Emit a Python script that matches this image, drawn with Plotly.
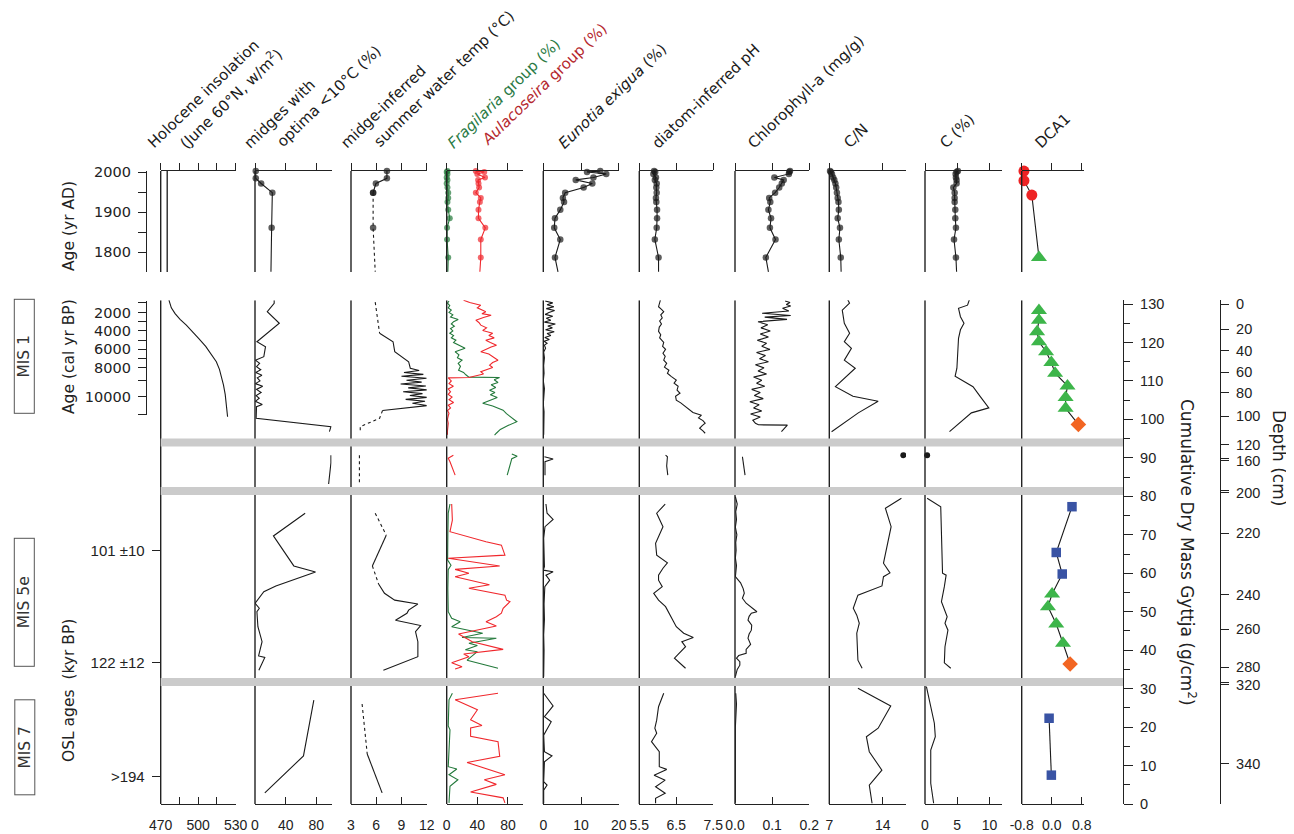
import plotly.graph_objects as go

W, H = 1294, 834          # browser window
OFF = 8                   # default page margin around the figure
FW, FH = W - OFF, H - OFF
FONT = "DejaVu Sans"
TICK_FAMILY = "Liberation Sans"
INK = "#1a1a1a"
GREEN = "#23793b"
RED = "#f0282d"

# ------------------------------------------------------------------ DATA
# --- top row: recent sediments (years AD); last year = line reaching panel bottom
top_years = [2003, 2001, 1996, 1987, 1981, 1972, 1962, 1949, 1936, 1926, 1906, 1885, 1861, 1832, 1787, 1751]
frag_top = [1, 0, 1, 0, 1, 0, 1, 2, 2, 1, 2, 4, 0.5, 0.5, 2, 1.5]
aul_top = [38, 49, 40, 50, 41, 41.5, 42.3, 38, 44.5, 43.3, 41.5, 41.5, 50.4, 44.5, 44.5, 43.3]
eun_top = [15.1, 11.6, 16.7, 13.3, 8.6, 13.0, 10.7, 5.8, 5.2, 5.5, 4.5, 3.1, 2.9, 4.5, 3.1, 3.9]
ph_top = [5.90, 5.93, 5.88, 5.95, 5.92, 5.97, 5.96, 5.97, 5.95, 5.96, 5.98, 5.98, 5.97, 5.92, 6.02, 6.02]
chl_top = [0.148, 0.146, 0.145, 0.106, 0.131, 0.126, 0.119, 0.108, 0.092, 0.095, 0.090, 0.097, 0.094, 0.109, 0.083, 0.090]
cn_top = [7.1, 7.2, 7.35, 7.5, 7.66, 7.8, 7.9, 8.0, 8.1, 8.2, 8.25, 8.1, 8.4, 8.25, 8.5, 8.55]
c_top = [5.1, 4.9, 4.75, 4.8, 4.9, 4.9, 4.4, 4.6, 4.6, 4.6, 4.7, 4.7, 4.8, 4.5, 4.8, 4.9]

midge_top_years = [2003, 1985, 1972, 1949, 1861, 1751]
midge_top = [1, 1, 8, 22.6, 21.7, 20.8]
temp_top_years = [2003, 1985, 1972, 1949]
temp_top = [7.27, 7.27, 5.96, 5.63]
temp_top_dash_years = [1949, 1861, 1751]
temp_top_dash = [5.63, 5.63, 5.88]
ins_top_years = [2003.3, 1750.5]
ins_top = [475.2, 475.2]
dca_top_years = [2003, 1979, 1943, 1787]
dca_top = [-0.74, -0.74, -0.53, -0.34]
dca_top_kind = ["circle", "circle", "circle", "triangle"]

# --- lower panels: cumulative dry mass (g/cm2); None separates core sections
ins_cum = [131.0, 129.0, 127.5, 126.0, 124.5, 123.0, 121.0, 119.0, 117.0, 115.0, 113.0, 111.0, 109.0, 106.5, 104.0, 100.7]
ins_wm2 = [476.6, 478.5, 481.5, 485.5, 490.5, 495.0, 500.5, 506.0, 510.5, 514.5, 517.0, 518.8, 520.2, 521.6, 522.6, 523.5]

midge_cum = [131.0, 130.2, 128.0, 125.0, 120.2, 118.9, 116.3, 115.4, 114.6, 113.7, 112.9, 112.2, 111.5, 110.8, 110.0,
             109.3, 108.6, 107.8, 107.0, 106.2, 105.5, 104.7, 103.9, 103.3, 100.3, 98.1, 96.8,
             None, 90.7, 88.7, 83.2,
             None, 75.6, 69.7, 61.9, 60.3, 56.7, 55.2, 52.2, 50.9, 50.0, 46.1, 42.2, 38.5, 38.1, 34.8,
             None, 27.0, 12.5, 2.9]
midge_pct = [25.0, 25.0, 16.0, 31.7, 2.5, 13.7, 11.5, 0.5, 6.0, 2.0, 7.5, 1.0, 9.0, 3.0, 6.5,
             0.5, 10.0, 2.0, 8.0, 1.5, 5.5, 0.5, 9.5, 2.0, 1.5, 99.0, 97.0,
             None, 99.0, 99.0, 96.0,
             None, 65.4, 24.0, 50.6, 78.9, 27.2, 11.5, 0.2, 5.6, 2.5, 3.8, 9.2, 4.7, 12.8, 5.0,
             None, 76.7, 63.2, 12.8]

temp_cum = [122.4, 120.2, 117.6, 115.0, 113.3, 112.7, 112.2, 111.7, 111.2, 110.7, 110.2, 109.7, 109.2, 108.7, 108.2,
            107.7, 107.2, 106.7, 106.2, 105.7, 105.2, 104.7, 104.2, 103.6, 102.3,
            None, 69.9, 61.9,
            None, 57.2, 54.8, 53.0, 52.0, 50.4, 49.6, 47.8, 46.4, 44.8, 42.2, 38.3, 34.8,
            None, 13.0, 2.9]
temp_c = [6.4, 8.0, 8.2, 9.85, 10.05, 11.1, 9.3, 11.6, 9.0, 12.0, 9.6, 11.4, 8.9, 11.9, 9.8,
          12.1, 9.2, 11.5, 10.0, 12.1, 9.5, 11.8, 10.3, 12.1, 6.75,
          None, 7.19, 5.54,
          None, 6.28, 6.98, 8.2, 10.95, 9.85, 9.65, 8.29, 11.28, 10.67, 10.95, 10.95, 6.85,
          None, 4.93, 6.7]
temp_dash_cum = [130.5, 122.4, None, 102.3, 100.3, 98.1, 96.8, None, 90.7, 83.4, None, 75.6, 69.9,
                 None, 61.9, 57.2, None, 26.0, 13.0]
temp_dash_c = [5.88, 6.4, None, 6.75, 6.4, 4.1, 4.1, None, 4.0, 4.0, None, 5.88, 7.19,
               None, 5.54, 6.28, None, 4.32, 4.93]

frag_cum = [130.8, 130.2, 129.6, 129.0, 128.4, 127.8, 127.2, 126.6, 126.0, 125.4, 124.8, 124.2, 123.6, 123.0, 122.4,
            121.8, 121.2, 120.6, 120.0, 119.4, 118.8, 118.5, 117.6, 116.8, 116.0, 115.4, 114.6, 113.8, 112.8, 112.2,
            111.6, 111.0, 110.9, 110.3, 109.6, 109.0, 108.3, 107.6, 107.0, 106.4, 105.7, 105.0, 104.2, 103.5, 102.4,
            101.5, 100.6, 99.4, 98.4, 97.4, 96.4, 95.9,
            None, 91.0, 90.4, 89.8, 85.5,
            None, 78.0, 75.6, 70.0, 63.4, 62.1, 60.9, 56.0, 50.0, 48.3, 47.4, 46.1, 44.4, 43.3, 43.1, 41.8, 41.2,
            40.1, 39.6, 37.4, 35.3,
            None, 28.8, 27.1, 20.3, 19.3, 9.7, 9.1, 7.6, 6.3, 4.6, 0.3]
frag_pct = [3, 1, 4, 2, 6, 3, 8, 5, 15, 9, 6, 10, 5, 8, 4,
            9, 6, 12, 9, 15, 20, 24, 11, 16, 14, 20, 15, 18, 15.5, 22,
            25, 29, 69, 62, 67, 58, 64, 56, 63, 57, 66, 56, 47, 60, 73.6,
            78, 84, 91.6, 80, 70, 64.8, 62.5,
            None, 85, 92, 85, 79,
            None, 4.3, 2, 1.5, 1.2, 5.6, 2, 1.5, 2, 6.5, 17.7, 6.5, 47, 20, 64.8, 29, 40,
            24.4, 40, 26.6, 67,
            None, 7.4, 3, 2, 4.3, 2, 13.2, 3, 14.6, 4.3, 3]

aul_cum = [131.0, 130.4, 129.7, 129.0, 128.4, 128.0, 127.5, 127.1, 126.5, 125.8, 125.2, 124.5, 123.8, 123.1, 122.4,
           121.8, 121.2, 120.6, 120.0, 119.3, 118.8, 118.2, 117.6, 117.0, 116.4, 115.9, 115.4, 114.8, 114.1, 113.5,
           112.9, 112.4, 111.8, 111.3, 110.9, 110.8, 110.0, 109.3, 108.6, 107.9, 107.2, 106.5, 105.8, 105.1, 104.4,
           103.7, 103.0, 102.3, 101.6, 100.9, 100.0, 99.0, 98.0, 97.0, 96.0,
           None, 90.7, 89.9, 89.0, 85.5,
           None, 78.0, 73.8, 70.8, 68.2, 67.3, 64.7, 63.9, 61.9, 61.0, 60.0, 59.1, 57.0, 56.1, 54.8, 54.3,
           53.0, 52.6, 50.9, 49.6, 48.7, 47.4, 46.3, 44.2, 42.2, 40.2, 39.0, 38.3, 36.7, 35.7, 35.1,
           None, 28.8, 27.1, 24.5, 21.9, 20.4, 19.8, 17.6, 16.2, 12.4, 10.8, 7.6, 6.3, 5.1, 3.1, 1.6, 0.3]
aul_pct = [22, 30, 44.5, 40, 47, 51, 46, 58, 48, 38, 42, 44.5, 52, 47, 60,
           55, 62, 51, 57, 65, 58, 52, 44.5, 55, 60, 63, 67, 60, 56, 60,
           50, 44.5, 48, 38, 29, 2, 6, 3, 8.7, 2, 5, 2, 7, 3, 9,
           2, 5, 1, 3, 2, 1, 2, 1, 1, 1,
           None, 8.7, 2, 4.3, 11,
           None, 6.5, 7.4, 4.3, 51.3, 71.4, 76, 2, 69.2, 11, 29, 11, 55.8, 29, 64.8, 76,
           78.2, 82.6, 73.7, 71.4, 64.8, 51.3, 64.8, 15.5, 33.4, 73.7, 22.2, 29, 6.5, 20, 11,
           None, 67, 11, 40.1, 31.2, 46, 31.2, 31.2, 67, 69.2, 26.6, 76, 49.1, 64.8, 31.2, 73.7, 76]

eun_cum = [130.8, 130.3, 129.8, 129.3, 128.8, 128.3, 127.8, 127.3, 126.8, 126.3, 125.8, 125.3, 124.8, 124.3, 123.8,
           123.3, 122.8, 122.3, 121.8, 121.3, 120.8, 120.3, 119.8, 119.3, 118.5, 117.5, 116.0, 114.0, 112.0, 110.0,
           108.0, 106.0, 104.0, 102.0, 100.0, 98.0, 96.0,
           None, 90.3, 89.7, 89.0, 85.5,
           None, 78.0, 75.6, 74.0, 72.1, 69.1, 65.0, 61.7, 60.8, 60.4, 59.5, 58.2, 56.5, 52.0, 48.0, 44.0, 40.0,
           36.0, 33.1,
           None, 28.8, 25.5, 22.7, 21.4, 17.9, 13.6, 12.5, 11.0, 5.8, 4.9, 3.6, 0.2]
eun_pct = [0.5, 2.5, 1.0, 2.8, 0.8, 3.0, 1.5, 0.5, 2.5, 0.8, 2.0, 0.3, 3.2, 1.2, 2.4,
           0.6, 2.9, 1.0, 2.0, 0.4, 1.6, 0.2, 1.0, 0.3, 0.6, 0.1, 0.3, 0.1, 0.2, 0.0,
           0.3, 0.1, 0.0, 0.2, 0.1, 0.0, 0.1,
           None, 0.3, 2.6, 0.45, 0.45,
           None, 0.7, 1.0, 2.6, 0.45, 0.1, 0.2, 0.3, 0.0, 2.6, 0.7, 1.7, 0.4, 0.2, 0.3, 0.1, 0.2,
           0.1, 0.1,
           None, 0.1, 2.6, 0.3, 2.1, 0.1, 0.3, 2.3, 0.3, 0.1, 1.0, 0.1, 0.1]

ph_cum = [131.0, 130.0, 129.3, 128.6, 128.0, 127.2, 126.4, 125.6, 124.8, 124.0, 122.9, 122.0, 121.2, 120.0, 119.0,
          118.2, 117.2, 116.4, 115.4, 114.6, 113.6, 112.8, 112.0, 111.2, 110.2, 109.4, 108.6, 107.6, 106.8, 106.0,
          105.0, 104.3, 103.7, 103.0, 102.4, 101.8, 101.1, 100.4, 99.7, 99.0, 98.4, 97.7, 97.0, 96.4,
          None, 90.7, 90.3, 87.9, 85.5,
          None, 78.0, 75.6, 72.1, 67.8, 64.7, 62.7, 61.3, 59.5, 58.2, 56.5, 54.8, 53.0, 51.3, 48.7, 46.1,
          44.4, 43.3, 42.2, 40.9, 37.9, 35.3,
          None, 28.8, 25.3, 21.8, 19.7, 18.4, 16.2, 13.6, 9.7, 9.0, 7.5, 6.2, 4.5, 2.8, 1.5, 0.2]
ph_val = [6.07, 6.04, 6.02, 6.10, 6.16, 6.08, 6.12, 6.05, 6.10, 6.04, 6.02, 6.08, 6.05, 6.16, 6.13,
          6.21, 6.14, 6.20, 6.16, 6.24, 6.18, 6.30, 6.26, 6.36, 6.50, 6.44, 6.55, 6.52, 6.60, 6.48,
          6.50, 6.62, 6.70, 6.78, 6.89, 6.95, 7.18, 7.10, 7.22, 7.28, 7.20, 7.13, 7.22, 7.28,
          None, 6.21, 6.26, 6.24, 6.27,
          None, 6.20, 5.97, 6.14, 5.94, 5.97, 6.26, 6.14, 6.02, 6.02, 6.12, 5.89, 6.02, 6.21, 6.36, 6.50,
          6.70, 6.96, 6.65, 6.75, 6.45, 6.75,
          None, 6.16, 6.02, 5.97, 5.92, 5.97, 5.83, 6.04, 6.04, 6.24, 5.90, 6.20, 5.94, 6.20, 5.94, 5.94]

chl_cum = [130.8, 130.4, 129.9, 129.5, 128.9, 128.2, 127.6, 127.0, 126.6, 126.0, 125.4, 124.6, 123.8, 123.0, 122.2,
           121.4, 120.6, 119.8, 119.0, 118.2, 117.4, 116.6, 115.8, 115.0, 114.2, 113.4, 112.6, 111.8, 111.0, 110.2,
           109.4, 108.6, 107.8, 107.0, 106.2, 105.4, 104.6, 103.8, 103.0, 102.2, 101.4, 100.6, 99.8, 99.0, 98.6,
           98.5, 96.8,
           None, 90.3, 85.5,
           None, 79.9, 78.0, 76.0, 74.0, 72.0, 70.0, 68.0, 66.0, 64.0, 62.0, 60.0, 59.1, 57.5, 56.0, 54.8,
           53.5, 52.2, 51.5, 50.9, 50.0, 49.6, 48.8, 47.8, 46.5, 45.2, 44.2, 43.1, 41.5, 40.2, 39.2,
           38.6, 37.9, 37.0, 36.1, 35.0, 33.1,
           None, 28.8, 26.0, 20.0, 10.0, 0.3]
chl_mg = [0.135, 0.148, 0.138, 0.150, 0.128, 0.145, 0.073, 0.150, 0.080, 0.140, 0.062, 0.088, 0.070, 0.095, 0.068,
          0.090, 0.060, 0.085, 0.072, 0.094, 0.058, 0.082, 0.066, 0.090, 0.055, 0.078, 0.062, 0.085, 0.050, 0.072,
          0.058, 0.080, 0.045, 0.068, 0.052, 0.076, 0.040, 0.065, 0.050, 0.072, 0.042, 0.068, 0.048, 0.055, 0.063,
          0.141, 0.125,
          None, 0.020, 0.027,
          None, 0.001, 0.006, 0.002, 0.004, 0.001, 0.005, 0.002, 0.003, 0.001, 0.004, 0.002, 0.001, 0.015, 0.022, 0.025,
          0.020, 0.030, 0.040, 0.049, 0.059, 0.044, 0.038, 0.035, 0.045, 0.044, 0.038, 0.035, 0.042, 0.030, 0.030,
          0.010, 0.004, 0.013, 0.013, 0.006, 0.001,
          None, 0.002, 0.004, 0.001, 0.001, 0.001]

cn_cum = [131.2, 130.2, 128.4, 125.0, 122.4, 120.2, 118.5, 115.4, 113.3, 108.5, 106.0, 104.7, 101.7, 96.8,
          None, 79.5, 76.9, 72.1, 66.5, 62.6, 60.1, 59.1, 56.7, 54.3, 50.9, 49.1, 47.0, 44.4, 37.4, 35.3,
          None, 30.1, 25.5, 19.7, 17.5, 13.6, 8.8, 4.9, 0.2]
cn_ratio = [9.4, 9.65, 8.7, 8.97, 9.66, 8.97, 9.9, 8.97, 10.4, 7.8, 10.1, 13.4, 10.8, 7.3,
            None, 16.45, 14.35, 15.1, 14.57, 14.1, 14.95, 14.1, 13.9, 10.75, 10.14, 10.6, 10.93, 10.6, 10.75, 11.3,
            None, 10.75, 15.05, 13.4, 11.86, 12.24, 13.89, 12.24, 12.6]
cn_mid_cum = [90.7]
cn_mid = [16.7]

c_cum = [131.2, 129.7, 128.9, 126.7, 125.0, 123.3, 121.1, 117.0, 113.3, 111.2, 108.5, 106.0, 103.0, 101.7, 96.8,
         None, 79.5, 77.3, 60.0, 59.5, 56.5, 52.6, 48.7, 47.0, 45.2, 40.9, 36.7, 35.3,
         None, 30.5, 21.0, 17.5, 14.0, 5.4, 0.2]
c_pct = [6.9, 6.6, 5.2, 5.5, 6.05, 5.5, 5.2, 5.05, 4.95, 4.67, 7.45, 8.55, 9.9, 7.2, 3.8,
         None, 0.33, 2.44, 2.72, 3.28, 3.0, 2.55, 3.44, 3.1, 3.56, 3.1, 3.0, 4.0,
         None, 0.22, 1.45, 1.6, 0.89, 0.89, 1.34]
c_mid_cum = [90.7]
c_mid = [0.33]

dca_cum = [128.3, 125.8, 122.8, 120.2, 117.6, 114.8, 112.0, 108.7, 105.7, 102.9, 98.7,
           None, 90.2,
           None, 77.3, 65.4, 59.8, 54.6, 51.3, 46.8, 41.8, 36.4,
           None, 22.3, 7.5]
dca_val = [-0.34, -0.34, -0.39, -0.34, -0.15, -0.01, 0.09, 0.42, 0.37, 0.37, 0.71,
           None, 0.99,
           None, 0.54, 0.12, 0.28, 0.01, -0.10, 0.12, 0.30, 0.49,
           None, -0.07, -0.01]
dca_kind = ["triangle"] * 10 + ["diamond", None, "square", None,
            "square", "square", "square", "triangle", "triangle", "triangle", "triangle", "diamond",
            None, "square", "square"]

# --- section separators and age scales (cumulative dry mass units)
gap_bands = [94.0, 81.4, 31.7]
bp_tick_cum = [130.3, 127.8, 125.5, 123.1, 120.6, 118.3, 115.9, 113.5, 110.1, 105.9, 101.2]
bp_tick_text = ["", "2000", "", "4000", "", "6000", "", "8000", "", "10000", ""]
osl_tick_cum = [65.9, 36.8, 7.2]
osl_tick_text = ["101 ±10", "122 ±12", ">194"]
depth_cm = [0, 20, 40, 60, 80, 100, 120, 160, 200, 220, 240, 260, 280, 320, 340]
depth_cum = [130.0, 123.4, 117.9, 112.3, 106.9, 100.8, 93.4, 89.3, 80.9, 70.4, 54.4, 45.5, 35.6, 31.0, 10.5]
depth_break_cm = [160, 200, 320]

# ------------------------------------------------------------------ GEOMETRY (window pixels)
Y0_PX, PX_PER_UNIT, CUM_MAX = 804.0, 3.846, 131.0
TOP_PX, BOT_PX = 171.0, 272.0
YEAR_TOP, YEAR_BOT = 2003.3, 1750.5

col_px = [(160.7, 235.7), (255.0, 331.7), (351.0, 426.7), (446.7, 523.3), (543.3, 618.7),
          (639.3, 713.3), (735.0, 809.3), (829.3, 906.0), (925.0, 1001.7), (1021.7, 1084.0)]
col_range = [[470, 530], [0, 100], [3, 12], [0, 100], [0, 20], [5.5, 7.5], [0, 0.2], [7, 17.05], [0, 11.9],
             [-0.8, 0.86]]
col_ticks = [[470, 485, 500, 515, 530], [0, 40, 80], [3, 6, 9, 12], [0, 40, 80], [0, 10, 20], [5.5, 6.5, 7.5],
             [0, 0.1, 0.2], [7, 14], [0, 5, 10], [-0.8, 0, 0.8]]
col_ticktext = [["470", "", "500", "", "530"], ["0", "40", "80"], ["3", "6", "9", "12"], ["0", "40", "80"],
                ["0", "10", "20"], ["5.5", "6.5", "7.5"], ["0.0", "0.1", "0.2"], ["7", "14"], ["0", "5", "10"],
                ["-0.8", "0.0", "0.8"]]


def px_x(px):
    return (px - OFF) / FW


def px_y(py):
    return 1 - (py - OFF) / FH


def cum_to_paper(c):
    return px_y(Y0_PX - PX_PER_UNIT * c)


def xlow(i):
    return "x" if i == 0 else f"x{i + 1}"


def xtop(i):
    return f"x{i + 11}"


fig = go.Figure()


def low_line(i, cum, val, color=INK, width=1.1, dash="solid"):
    fig.add_trace(go.Scatter(x=val, y=cum, xaxis=xlow(i), yaxis="y", mode="lines",
                             line=dict(color=color, width=width, dash=dash), connectgaps=False,
                             hoverinfo="skip"))


def top_series(i, years, vals, color=INK, msize=6.5, dash="solid", extend=True):
    n = len(years)
    sizes = [msize] * (n - 1) + [0 if extend else msize]
    fig.add_trace(go.Scatter(x=vals, y=years, xaxis=xtop(i), yaxis="y2", mode="lines+markers",
                             line=dict(color=color, width=1.1, dash=dash),
                             marker=dict(color=color, size=sizes, line=dict(width=0)),
                             cliponaxis=False, hoverinfo="skip"))


# ---- top row
fig.add_trace(go.Scatter(x=ins_top, y=ins_top_years, xaxis=xtop(0), yaxis="y2", mode="lines",
                         line=dict(color=INK, width=1.3), hoverinfo="skip"))
top_series(1, midge_top_years, midge_top)
top_series(2, temp_top_years, temp_top, extend=False)
top_series(2, temp_top_dash_years, temp_top_dash, dash="3px,3px")
top_series(3, top_years, frag_top, color=GREEN, msize=6)
top_series(3, top_years, aul_top, color=RED, msize=6)
top_series(4, top_years, eun_top)
top_series(5, top_years, ph_top)
top_series(6, top_years, chl_top)
top_series(7, top_years, cn_top)
top_series(8, top_years, c_top)

KIND = {"circle": ("circle", "#ee2324", 11), "triangle": ("triangle-up", "#3db54a", 14),
        "square": ("square", "#3953a4", 9.5), "diamond": ("diamond", "#f26522", 12)}

fig.add_trace(go.Scatter(x=dca_top, y=dca_top_years, xaxis=xtop(9), yaxis="y2", mode="lines",
                         line=dict(color=INK, width=1.1), hoverinfo="skip"))
for kind, (sym, col, sz) in KIND.items():
    xs = [v for v, k in zip(dca_top, dca_top_kind) if k == kind]
    ys = [v for v, k in zip(dca_top_years, dca_top_kind) if k == kind]
    if xs:
        fig.add_trace(go.Scatter(x=xs, y=ys, xaxis=xtop(9), yaxis="y2", mode="markers",
                                 marker=dict(symbol=sym, color=col, size=sz, line=dict(width=0)),
                                 cliponaxis=False, hoverinfo="skip"))

# ---- lower panels
low_line(0, ins_cum, ins_wm2)
low_line(1, midge_cum, midge_pct)
low_line(2, temp_cum, temp_c)
low_line(2, temp_dash_cum, temp_dash_c, dash="3px,3px")
low_line(3, frag_cum, frag_pct, color=GREEN)
low_line(3, aul_cum, aul_pct, color=RED)
low_line(4, eun_cum, eun_pct)
low_line(5, ph_cum, ph_val)
low_line(6, chl_cum, chl_mg)
low_line(7, cn_cum, cn_ratio)
low_line(8, c_cum, c_pct)
fig.add_trace(go.Scatter(x=cn_mid, y=cn_mid_cum, xaxis=xlow(7), yaxis="y", mode="markers",
                         marker=dict(color=INK, size=6), hoverinfo="skip"))
fig.add_trace(go.Scatter(x=c_mid, y=c_mid_cum, xaxis=xlow(8), yaxis="y", mode="markers",
                         marker=dict(color=INK, size=6), cliponaxis=False, hoverinfo="skip"))
low_line(9, dca_cum, dca_val)
for kind, (sym, col, sz) in KIND.items():
    xs = [v for v, k in zip(dca_val, dca_kind) if k == kind]
    ys = [v for v, k in zip(dca_cum, dca_kind) if k == kind]
    if xs:
        fig.add_trace(go.Scatter(x=xs, y=ys, xaxis=xlow(9), yaxis="y", mode="markers",
                                 marker=dict(symbol=sym, color=col, size=sz, line=dict(width=0)),
                                 cliponaxis=False, hoverinfo="skip"))

# empty traces so that the auxiliary age / depth axes are drawn
for ya in ["y3", "y4", "y5"]:
    fig.add_trace(go.Scatter(x=[None], y=[None], xaxis="x", yaxis=ya, mode="markers", hoverinfo="skip"))

# ------------------------------------------------------------------ LAYOUT
AX = dict(showgrid=False, zeroline=False, linecolor="#222", linewidth=1.4, tickcolor="#222", tickwidth=1.3)
TICKFONT = dict(family=TICK_FAMILY, size=14.5, color="#222")
XTICKFONT = dict(family=TICK_FAMILY, size=14, color="#222")

layout = dict(width=FW, height=FH, margin=dict(l=0, r=0, t=0, b=0, autoexpand=False),
              paper_bgcolor="white", plot_bgcolor="rgba(0,0,0,0)", showlegend=False,
              font=dict(family=FONT, size=14, color="#222"))

for i in range(10):
    x0, x1 = col_px[i]
    common = dict(AX, range=col_range[i], domain=[px_x(x0), px_x(x1)], showline=True, tickmode="array",
                  tickvals=col_ticks[i], ticklen=7, fixedrange=True)
    layout["xaxis" if i == 0 else f"xaxis{i + 1}"] = dict(common, anchor="y", side="bottom", ticks="inside",
                                                           ticktext=col_ticktext[i], tickfont=XTICKFONT,
                                                           ticklabelstandoff=8)
    layout[f"xaxis{i + 11}"] = dict(common, anchor="y2", side="top", ticks="outside", showticklabels=False)

layout["yaxis"] = dict(AX, domain=[cum_to_paper(0), cum_to_paper(CUM_MAX)], range=[0, CUM_MAX],
                       anchor="free", position=px_x(1123), side="right", showline=True, ticks="outside",
                       ticklen=9, tick0=0, dtick=10, tickfont=TICKFONT, ticklabelstandoff=4,
                       minor=dict(dtick=5, tick0=0, ticks="outside", ticklen=6, tickcolor="#222"))
layout["yaxis2"] = dict(AX, domain=[px_y(BOT_PX), px_y(TOP_PX)], range=[YEAR_BOT, YEAR_TOP],
                        anchor="free", position=px_x(146), side="left", showline=True, ticks="outside",
                        ticklen=8, tickmode="array", tickvals=[1800, 1850, 1900, 1950, 2000],
                        ticktext=["1800", "", "1900", "", "2000"],
                        tickfont=dict(family=FONT, size=14.5, color="#222"), ticklabelstandoff=4)
bp_lo, bp_hi = bp_tick_cum[-1], 130.9
layout["yaxis3"] = dict(AX, domain=[cum_to_paper(bp_lo), cum_to_paper(bp_hi)], range=[bp_lo, bp_hi],
                        anchor="free", position=px_x(146), side="left", showline=True, ticks="outside",
                        ticklen=8, tickmode="array", tickvals=bp_tick_cum, ticktext=bp_tick_text,
                        tickfont=dict(family=FONT, size=14.5, color="#222"), ticklabelstandoff=4)
layout["yaxis4"] = dict(AX, overlaying="y", range=[0, CUM_MAX], anchor="free", position=px_x(160.7),
                        side="left", showline=False, ticks="outside", ticklen=9, tickmode="array",
                        tickvals=osl_tick_cum, ticktext=osl_tick_text,
                        tickfont=dict(family="Liberation Sans", size=15, color="#222"), ticklabelstandoff=4)
depth_tickvals = list(depth_cum) + [depth_cum[depth_cm.index(d)] + 0.5 for d in depth_break_cm]
depth_ticktext = [str(d) for d in depth_cm] + [""] * len(depth_break_cm)
layout["yaxis5"] = dict(AX, overlaying="y", range=[0, CUM_MAX], anchor="free", position=px_x(1220),
                        side="right", showline=True, ticks="outside", ticklen=8, tickmode="array",
                        tickvals=depth_tickvals, ticktext=depth_ticktext, tickfont=TICKFONT,
                        ticklabelstandoff=4)

shapes = []
for i in range(10):
    shapes.append(dict(type="line", xref=f"{xlow(i)} domain", yref="y", x0=0, x1=0, y0=0, y1=CUM_MAX,
                       line=dict(color="#222", width=1.4)))
    shapes.append(dict(type="line", xref=f"{xtop(i)} domain", yref="y2", x0=0, x1=0, y0=YEAR_BOT, y1=YEAR_TOP,
                       line=dict(color="#222", width=1.4)))
for b in gap_bands:
    shapes.append(dict(type="rect", xref="paper", yref="y", x0=px_x(col_px[0][0]), x1=px_x(1123),
                       y0=b - 1.05, y1=b + 1.05, fillcolor="#cbcbcb", line=dict(width=0), layer="above"))
layout["shapes"] = shapes

# ------------------------------------------------------------------ TEXT
headers = [
    ("Holocene insolation", 148.3, 150, INK),
    ("(June 60°N, w/m<sup>2</sup>)", 179.3, 150, INK),
    ("midges with", 244.8, 150, INK),
    ("optima &lt;10°C (%)", 277.6, 148.3, INK),
    ("midge-inferred", 341.4, 150, INK),
    ("summer water temp (°C)", 374.1, 148.3, INK),
    ("<i>Fragilaria</i> group (%)", 447.6, 150, "#2a7a45"),
    ("<i>Aulacoseira</i> group (%)", 482.8, 146.7, "#b5282e"),
    ("<i>Eunotia exigua</i> (%)", 559.3, 150, INK),
    ("diatom-inferred pH", 653.2, 150, INK),
    ("Chlorophyll-a (mg/g)", 748.6, 150, INK),
    ("C/N", 844.3, 150, INK),
    ("C (%)", 940.7, 150, INK),
    ("DCA1", 1035.4, 150, INK),
]
HDR_SIZE = 15
annotations = []
for txt, sx, sy, col in headers:
    annotations.append(dict(text=txt, x=px_x(sx - 7), y=px_y(sy + 5), xref="paper", yref="paper",
                            xanchor="left", yanchor="bottom", textangle=-44, showarrow=False,
                            font=dict(family=FONT, size=HDR_SIZE, color=col)))

side_titles = [
    ("Age (yr AD)", 69, 226, -90, 15.5),
    ("Age (cal yr BP)", 69, 357, -90, 15.5),
    ("OSL ages \u00a0(kyr BP)", 69, 691, -90, 15.5),
    ("Cumulative Dry Mass Gyttja (g/cm<sup>2</sup>)", 1188, 552, 90, 17),
    ("Depth (cm)", 1279, 458, 90, 17),
]
for txt, px, py, ang, fs in side_titles:
    annotations.append(dict(text=txt, x=px_x(px), y=px_y(py), xref="paper", yref="paper",
                            xanchor="center", yanchor="middle", textangle=ang, showarrow=False,
                            font=dict(family=FONT, size=fs, color="#222")))

mis_boxes = [("MIS 1", 24.3, 356.5, 113), ("MIS 5e", 24.3, 602.5, 127), ("MIS 7", 24.3, 747, 94)]
for txt, px, py, length in mis_boxes:
    annotations.append(dict(text=txt, x=px_x(px), y=px_y(py), xref="paper", yref="paper",
                            xanchor="center", yanchor="middle", textangle=-90, showarrow=False,
                            width=length, height=19, borderpad=0, bordercolor="#555", borderwidth=1,
                            font=dict(family=FONT, size=15.5, color="#333")))
layout["annotations"] = annotations

fig.update_layout(**layout)
fig.write_html("out.html")
